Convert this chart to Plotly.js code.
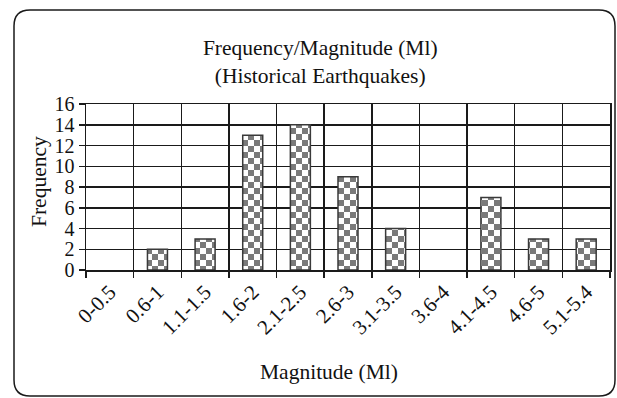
<!DOCTYPE html>
<html>
<head>
<meta charset="utf-8">
<script src="https://cdn.plot.ly/plotly-3.0.1.min.js"></script>
<style>
html,body{margin:0;padding:0;background:#fff;}
#chart{width:617px;height:398px;}
</style>
</head>
<body>
<div id="chart"></div>
<script>
const categories = ["0-0.5","0.6-1","1.1-1.5","1.6-2","2.1-2.5","2.6-3","3.1-3.5","3.6-4","4.1-4.5","4.6-5","5.1-5.4"];
const frequency = [0, 2, 3, 13, 14, 9, 4, 0, 7, 3, 3];
const yTicks = [0, 2, 4, 6, 8, 10, 12, 14, 16];

const W = 617, H = 398;
const M = {l: 86, r: 7, t: 104, b: 128};
const pw = W - M.l - M.r, ph = H - M.t - M.b;
const px = x => (x - M.l) / pw;
const py = y => (H - M.b - y) / ph;

// rounded frame
const L = 14, R = 615, T = 10, B = 396, rad = 16;
const framePath =
  'M' + px(L + rad) + ',' + py(T) +
  ' L' + px(R - rad) + ',' + py(T) +
  ' Q' + px(R) + ',' + py(T) + ' ' + px(R) + ',' + py(T + rad) +
  ' L' + px(R) + ',' + py(B - rad) +
  ' Q' + px(R) + ',' + py(B) + ' ' + px(R - rad) + ',' + py(B) +
  ' L' + px(L + rad) + ',' + py(B) +
  ' Q' + px(L) + ',' + py(B) + ' ' + px(L) + ',' + py(B - rad) +
  ' L' + px(L) + ',' + py(T + rad) +
  ' Q' + px(L) + ',' + py(T) + ' ' + px(L + rad) + ',' + py(T) + ' Z';

const font = 'Liberation Serif, Times New Roman, serif';

const trace = {
  type: 'bar',
  x: categories,
  y: frequency,
  width: 0.42,
  marker: {
    color: '#ffffff',
    line: {color: '#3a3a3a', width: frequency.map(v => v > 0 ? 1.5 : 0)},
    pattern: {shape: '.', size: 12, solidity: 0.4, fgcolor: '#7a7a7a', bgcolor: '#ffffff', fillmode: 'replace'}
  },
  hoverinfo: 'x+y'
};

const layout = {
  width: W, height: H,
  margin: M,
  paper_bgcolor: '#ffffff',
  plot_bgcolor: '#ffffff',
  font: {family: font, color: '#111', size: 20},
  showlegend: false,
  title: {
    text: 'Frequency/Magnitude (Ml)<br>(Historical Earthquakes)',
    font: {family: font, size: 21.5, color: '#111'},
    x: 0.519, xref: 'container', xanchor: 'center',
    y: 0.862, yref: 'container', yanchor: 'bottom'
  },
  xaxis: {
    type: 'category',
    tickson: 'boundaries',
    showgrid: true, gridcolor: '#1a1a1a', gridwidth: 1.5,
    ticks: 'outside', ticklen: 6, tickcolor: '#1a1a1a', tickwidth: 1.5,
    tickangle: -45,
    tickfont: {family: font, size: 21, color: '#111'},
    showline: true, linecolor: '#1a1a1a', linewidth: 1.5, mirror: true,
    range: [-0.5, 10.5],
    fixedrange: true
  },
  yaxis: {
    range: [0, 16],
    tickvals: yTicks,
    ticktext: yTicks.map(String),
    showgrid: true, gridcolor: '#1a1a1a', gridwidth: 1.5,
    zeroline: false,
    ticks: 'outside', ticklen: 6, tickcolor: '#1a1a1a', tickwidth: 1.5,
    tickfont: {family: font, size: 20, color: '#111'},
    showline: true, linecolor: '#1a1a1a', linewidth: 1.5, mirror: true,
    fixedrange: true
  },
  annotations: [
    {text: 'Magnitude (Ml)', xref: 'paper', yref: 'paper', x: px(329), y: py(372),
     xanchor: 'center', yanchor: 'middle', showarrow: false,
     font: {family: font, size: 21.5, color: '#111'}},
    {text: 'Frequency', xref: 'paper', yref: 'paper', x: px(39), y: py(182),
     xanchor: 'center', yanchor: 'middle', showarrow: false, textangle: -90,
     font: {family: font, size: 21.5, color: '#111'}}
  ],
  shapes: [{
    type: 'path', xref: 'paper', yref: 'paper', path: framePath,
    line: {color: '#1a1a1a', width: 1.5}, fillcolor: 'rgba(0,0,0,0)', layer: 'above'
  }]
};

Plotly.newPlot('chart', [trace], layout, {displayModeBar: false, staticPlot: true}).then(gd => {
  // turn the dot pattern tile into a checkerboard tile
  const NS = 'http://www.w3.org/2000/svg';
  gd.querySelectorAll('pattern').forEach(p => {
    const s = 12, h = s / 2;
    p.setAttribute('width', s);
    p.setAttribute('height', s);
    p.setAttribute('patternUnits', 'userSpaceOnUse');
    while (p.firstChild) p.removeChild(p.firstChild);
    const mk = (x, y, w, hh, c) => {
      const r = document.createElementNS(NS, 'rect');
      r.setAttribute('x', x); r.setAttribute('y', y);
      r.setAttribute('width', w); r.setAttribute('height', hh);
      r.setAttribute('fill', c);
      p.appendChild(r);
    };
    mk(0, 0, s, s, '#ffffff');
    mk(0, 0, h, h, '#7a7a7a');
    mk(h, h, h, h, '#7a7a7a');
  });
});
</script>
</body>
</html>
